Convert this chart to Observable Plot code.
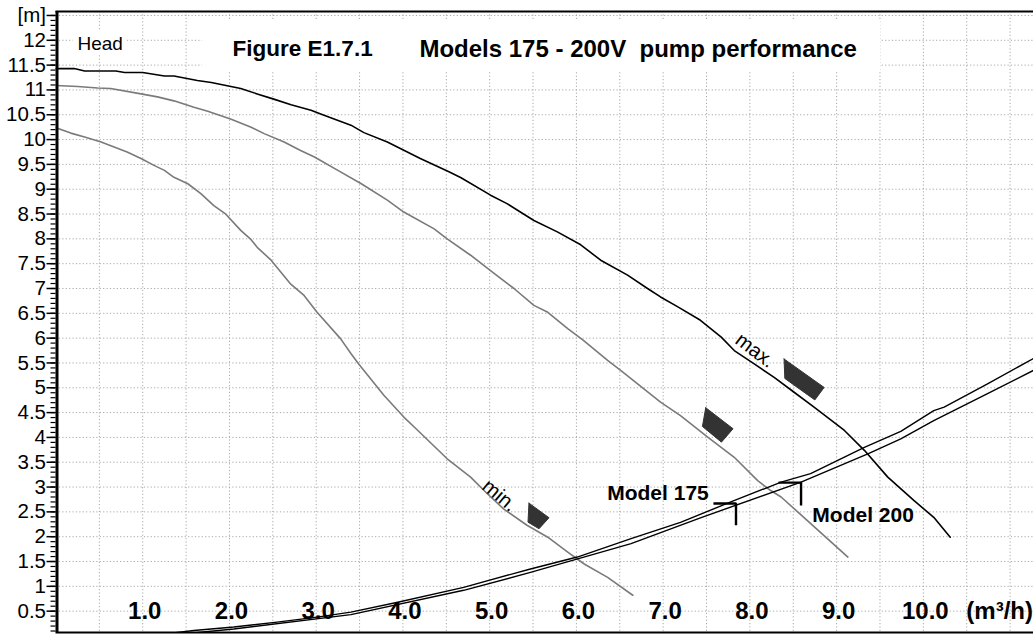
<!DOCTYPE html>
<html><head><meta charset="utf-8">
<script src="https://cdn.jsdelivr.net/npm/d3@7"></script>
<script src="https://cdn.jsdelivr.net/npm/@observablehq/plot@0.6"></script>
<style>
html,body{margin:0;padding:0;background:#fff;overflow:hidden;}
#chart svg{display:block;overflow:hidden;}
</style></head><body><div id="chart"></div>
<script>
// ---- data (flow m3/h, head m) ----
const maxFlow = [0,0.21,0.33,0.69,0.79,1.0,1.25,1.36,1.63,1.79,2.13,2.32,2.52,2.71,2.94,3.09,3.40,3.55,3.82,3.97,4.20,4.53,4.67,5.01,5.20,5.51,5.78,6.05,6.28,6.59,6.82,6.97,7.17,7.43,7.67,7.82,8.05,8.28,8.51,8.74,9.09,9.32,9.59,9.89,10.12,10.31];
const maxHead = [11.43,11.43,11.38,11.38,11.35,11.35,11.28,11.28,11.19,11.15,11.03,10.92,10.81,10.70,10.59,10.49,10.29,10.14,9.95,9.82,9.62,9.35,9.23,8.88,8.71,8.37,8.14,7.88,7.57,7.27,7.00,6.83,6.63,6.36,6.02,5.75,5.48,5.21,4.91,4.61,4.14,3.74,3.20,2.73,2.39,1.99];
const midFlow = [0,0.25,0.48,0.63,0.98,1.17,1.36,1.59,1.75,2.02,2.25,2.40,2.63,2.82,2.98,3.28,3.52,3.82,4.01,4.36,4.51,4.78,5.01,5.13,5.28,5.51,5.67,5.90,6.07,6.36,6.51,6.97,7.20,7.51,7.82,8.09,8.24,8.36,8.66,9.13];
const midHead = [11.09,11.07,11.04,11.03,10.92,10.86,10.78,10.65,10.57,10.41,10.25,10.12,9.95,9.78,9.65,9.35,9.11,8.78,8.54,8.20,8.00,7.67,7.36,7.20,7.00,6.66,6.52,6.19,5.97,5.55,5.35,4.71,4.44,4.01,3.60,3.13,2.93,2.80,2.33,1.59];
const minFlow = [0,0.17,0.33,0.52,0.67,0.82,0.98,1.13,1.25,1.36,1.52,1.67,1.82,1.95,2.13,2.24,2.32,2.48,2.70,2.86,3.01,3.28,3.40,3.49,3.78,4.01,4.13,4.51,4.78,4.97,5.16,5.43,5.67,5.90,6.09,6.36,6.65];
const minHead = [10.24,10.13,10.05,9.95,9.85,9.75,9.62,9.48,9.38,9.24,9.11,8.91,8.67,8.51,8.17,8.00,7.83,7.57,7.10,6.86,6.52,5.99,5.69,5.48,4.85,4.41,4.21,3.57,3.20,2.87,2.56,2.23,1.99,1.69,1.45,1.18,0.82];
const sysUpperFlow = [1.15,1.59,2.05,2.55,3.01,3.40,3.94,4.70,5.47,6.01,6.63,7.20,7.78,8.36,8.70,9.32,9.74,10.12,10.24,10.74,11.27];
const sysUpperHead = [0.02,0.11,0.18,0.28,0.38,0.48,0.68,0.98,1.35,1.59,1.96,2.29,2.70,3.10,3.27,3.80,4.12,4.54,4.61,5.08,5.59];
const sysLowerFlow = [1.22,2.05,3.40,4.70,5.47,6.63,7.43,8.59,9.36,9.74,10.12,10.74,11.27];
const sysLowerHead = [0.00,0.14,0.43,0.92,1.28,1.86,2.38,3.10,3.67,3.97,4.34,4.88,5.35];
// marker polygons (flow, head)
const markMaxFlow = [8.394,8.856,8.749,8.403,8.394];
const markMaxHead = [5.581,5.007,4.755,5.188,5.581];
const markMidFlow = [7.491,7.806,7.672,7.453,7.491];
const markMidHead = [4.598,4.175,3.905,4.221,4.598];
const markMinFlow = [5.453,5.684,5.569,5.442,5.453];
const markMinHead = [2.676,2.382,2.160,2.293,2.676];
// model operating point brackets
const model175Flow = [7.58,7.84,7.84];
const model175Head = [2.67,2.67,2.23];
const model200Flow = [8.33,8.59,8.59];
const model200Head = [3.09,3.09,2.63];
// ticks / labels
const xLabels = [1,2,3,4,5,6,7,8,9,10];
const xUnit = "(m³/h)";
const gridXTicks = d3.range(1, 23).map(i => i * 0.5);
const gridYTicks = d3.range(1, 26).map(i => i * 0.5);
const yMajor = d3.range(1, 26).map(i => i * 0.5);
const yMinor = d3.range(1, 126).map(i => i / 10);
const yTopLabel = "[m]";
const titleLeft = "Figure E1.7.1";
const titleRight = "Models 175 - 200V\u00a0 pump performance";
const headLabel = "Head";

const xDomain = [0, 11.27];
const yDomain = [0.07, 12.58];

const toPts = (fx, fy, id) => fx.map((x, i) => ({x, y: fy[i], id}));
const curves = [
  ...toPts(maxFlow, maxHead, "max"),
  ...toPts(midFlow, midHead, "mid"),
  ...toPts(minFlow, minHead, "min")
];
const sys = [...toPts(sysUpperFlow, sysUpperHead, "u"), ...toPts(sysLowerFlow, sysLowerHead, "l")];
const marks3 = [...toPts(markMaxFlow, markMaxHead, "a"), ...toPts(markMidFlow, markMidHead, "b"), ...toPts(markMinFlow, markMinHead, "c")];
const brackets = [...toPts(model175Flow, model175Head, "175"), ...toPts(model200Flow, model200Head, "200")];
const curveColor = {max: "#000", mid: "#7a7a7a", min: "#7a7a7a"};

const font = "Arial, 'Liberation Sans', sans-serif";
const chart = Plot.plot({
  width: 1033, height: 634,
  marginLeft: 55.5, marginRight: 0, marginTop: 11, marginBottom: 2,
  x: {domain: xDomain},
  y: {domain: yDomain},
  style: {fontFamily: font, fontSize: "20.5px", background: "#fff", color: "#000", overflow: "hidden"},
  marks: [
    Plot.gridX({ticks: gridXTicks, stroke: "#a8a8a8", strokeOpacity: 1, strokeDasharray: "1.2,2.2"}),
    Plot.gridY({ticks: gridYTicks, stroke: "#a8a8a8", strokeOpacity: 1, strokeDasharray: "1.2,2.2"}),
    // white boxes behind header texts
    Plot.rect([{x1: 1.69, x2: 9.51, y1: 11.39, y2: 12.40}], {x1: "x1", x2: "x2", y1: "y1", y2: "y2", fill: "#fff"}),
    Plot.rect([{x1: 0.2, x2: 0.82, y1: 11.7, y2: 12.2}], {x1: "x1", x2: "x2", y1: "y1", y2: "y2", fill: "#fff"}),
    // pump curves
    Plot.line(curves, {x: "x", y: "y", z: "id", stroke: d => curveColor[d.id], strokeWidth: 1.6, clip: true}),
    // system curves
    Plot.line(sys, {x: "x", y: "y", z: "id", stroke: "#000", strokeWidth: 1.4, clip: true}),
    // dark markers
    Plot.line(marks3, {x: "x", y: "y", z: "id", fill: "#333", stroke: "#333", strokeWidth: 1}),
    // model brackets
    Plot.line(brackets, {x: "x", y: "y", z: "id", stroke: "#000", strokeWidth: 2.4, strokeLinejoin: "miter", strokeLinecap: "butt"}),
    // frame
    Plot.ruleY([yDomain[1]], {stroke: "#000", strokeWidth: 2}),
    Plot.ruleY([yDomain[0]], {stroke: "#000", strokeWidth: 2}),
    Plot.ruleX([xDomain[0]], {stroke: "#000", strokeWidth: 3, dx: 1}),
    // y axis major + minor ticks
    Plot.axisY({ticks: yMajor, tickSize: 9, tickPadding: 1, strokeWidth: 1.5,
      tickFormat: d => d === 12.5 ? yTopLabel : String(d), label: null}),
    Plot.axisY({ticks: yMinor, tickSize: 5, tickFormat: () => "", strokeWidth: 1.2, label: null}),
    // x labels inside plot
    Plot.axisX({ticks: xLabels, tickSize: 0, tickPadding: 0, anchor: "bottom", lineAnchor: "middle", dy: -21, dx: 2,
      tickFormat: d => d.toFixed(1), fontSize: 24, fontWeight: "bold", label: null}),
    Plot.text([xUnit], {x: () => 10, frameAnchor: "bottom", text: d => d, dy: -21, dx: 43, textAnchor: "start",
      lineAnchor: "middle", fontSize: 24, fontWeight: "bold"}),
    // texts
    Plot.text([headLabel], {x: () => 0.248, y: () => 11.93, text: d => d, textAnchor: "start", lineAnchor: "middle", fontSize: 19}),
    Plot.text([titleLeft], {x: () => 2.036, y: () => 11.82, text: d => d, textAnchor: "start", lineAnchor: "middle", fontSize: 22.5, fontWeight: "bold"}),
    Plot.text([titleRight], {x: () => 4.19, y: () => 11.82, text: d => d, textAnchor: "start", lineAnchor: "middle", fontSize: 24, fontWeight: "bold"}),
    Plot.text(["max."], {x: () => 8.06, y: () => 5.75, text: d => d, rotate: 37, fontSize: 20}),
    Plot.text(["min."], {x: () => 5.115, y: () => 2.83, text: d => d, rotate: 40, fontSize: 20}),
    Plot.text(["Model 175"], {x: () => 7.526, y: () => 2.73, text: d => d, textAnchor: "end", lineAnchor: "bottom", fontSize: 21, fontWeight: "bold"}),
    Plot.text(["Model 200"], {x: () => 8.72, y: () => 2.29, text: d => d, textAnchor: "start", lineAnchor: "bottom", fontSize: 21, fontWeight: "bold"})
  ]
});
document.getElementById("chart").appendChild(chart);
</script></body></html>
